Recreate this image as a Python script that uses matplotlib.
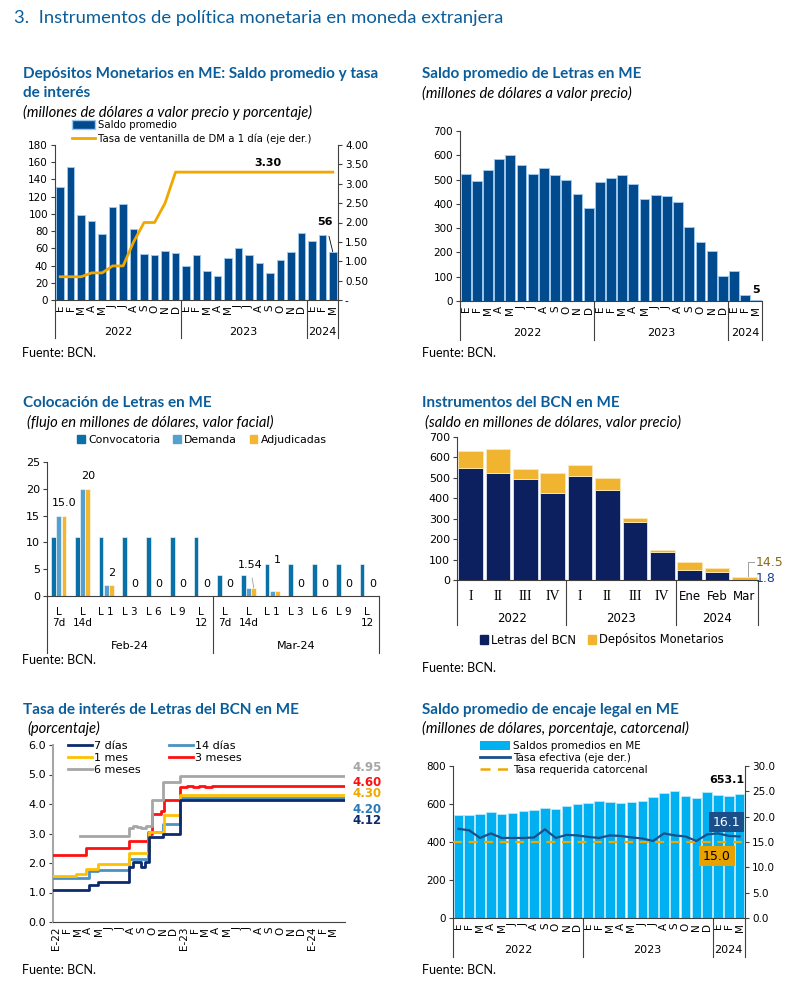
import numpy as np
import matplotlib
matplotlib.use('Agg')
import matplotlib.pyplot as plt
from matplotlib.transforms import blended_transform_factory as btf
from matplotlib.patches import Patch
from matplotlib.lines import Line2D

plt.rcParams['font.family'] = ['DejaVu Sans']
plt.rcParams['axes.linewidth'] = 0.8

# ---------------- data ----------------
months = ['E', 'F', 'M', 'A', 'M', 'J', 'J', 'A', 'S', 'O', 'N', 'D',
          'E', 'F', 'M', 'A', 'M', 'J', 'J', 'A', 'S', 'O', 'N', 'D',
          'E', 'F', 'M']
year_groups = ['2022', '2023', '2024']
year_sizes = [12, 12, 3]

# Panel 1: Depósitos Monetarios
dm_saldo = [131, 154, 99, 92, 77, 108, 111, 83, 53, 52, 57, 55,
            40, 52, 34, 28, 49, 60, 52, 43, 31, 46, 56, 78,
            68, 76, 56]
dm_tasa = [0.60, 0.60, 0.60, 0.70, 0.70, 0.88, 0.88, 1.50, 2.00, 2.00, 2.50, 3.30,
           3.30, 3.30, 3.30, 3.30, 3.30, 3.30, 3.30, 3.30, 3.30, 3.30, 3.30, 3.30,
           3.30, 3.30, 3.30]

# Panel 2: Saldo promedio de Letras
letras_saldo = [522, 495, 538, 583, 600, 558, 521, 548, 519, 497, 440, 385,
                490, 506, 517, 482, 419, 438, 432, 406, 305, 243, 206, 104,
                125, 24, 5]

# Panel 3: Colocación de Letras
col_labels = ['L\n7d', 'L\n14d', 'L 1', 'L 3', 'L 6', 'L 9', 'L\n12',
              'L\n7d', 'L\n14d', 'L 1', 'L 3', 'L 6', 'L 9', 'L\n12']
col_groups = ['Feb-24', 'Mar-24']
col_sizes = [7, 7]
convocatoria = [11, 11, 11, 11, 11, 11, 11, 4, 4, 6, 6, 6, 6, 6]
demanda = [15, 20, 2, 0, 0, 0, 0, 0, 1.54, 1, 0, 0, 0, 0]
adjudicadas = [15, 20, 2, 0, 0, 0, 0, 0, 1.54, 1, 0, 0, 0, 0]
adj_text = ['15.0', '20', '2', '0', '0', '0', '0', '0', '1.54', '1', '0', '0', '0', '0']

# Panel 4: Instrumentos del BCN
inst_labels = ['I', 'II', 'III', 'IV', 'I', 'II', 'III', 'IV', 'Ene', 'Feb', 'Mar']
inst_groups = ['2022', '2023', '2024']
inst_sizes = [4, 4, 3]
letras_bcn = [547, 526, 492, 427, 508, 443, 285, 137, 49, 37, 1.8]
depositos_mon = [83, 114, 50, 96, 55, 58, 19, 8, 41, 20, 14.5]

# Panel 5: Tasa de interés de Letras (step series; x in months from Jan-2022)
tasa_ticks = ['E-22', 'F', 'M', 'A', 'M', 'J', 'J', 'A', 'S', 'O', 'N', 'D',
              'E-23', 'F', 'M', 'A', 'M', 'J', 'J', 'A', 'S', 'O', 'N', 'D',
              'E-24', 'F', 'M']
t7_x = [-0.3, 3.1, 3.9, 6.8, 7.2, 8.0, 8.3, 8.75, 10.0, 11.6, 27.0]
t7_y = [1.08, 1.25, 1.36, 1.88, 2.03, 1.88, 2.03, 2.87, 3.00, 4.12, 4.12]
t14_x = [-0.3, 3.1, 3.9, 6.8, 8.6, 10.0, 11.6, 27.0]
t14_y = [1.50, 1.72, 1.76, 2.12, 3.04, 3.32, 4.20, 4.20]
t1m_x = [-0.3, 1.9, 2.8, 3.9, 6.8, 8.75, 10.1, 11.6, 27.0]
t1m_y = [1.55, 1.63, 1.80, 1.95, 2.33, 3.04, 3.62, 4.30, 4.30]
t3m_x = [-0.3, 2.8, 6.8, 8.6, 9.0, 9.8, 10.1, 11.6, 12.3, 12.8, 13.4, 14.0, 14.6, 15.2, 27.0]
t3m_y = [2.27, 2.52, 2.76, 3.00, 3.65, 3.75, 4.12, 4.58, 4.62, 4.58, 4.61, 4.57, 4.61, 4.60, 4.60]
t6m_x = [2.2, 6.8, 7.2, 7.6, 8.0, 8.4, 9.0, 10.0, 11.6, 27.0]
t6m_y = [2.90, 3.18, 3.25, 3.22, 3.18, 3.25, 4.15, 4.75, 4.95, 4.95]
tasa_finales = [4.95, 4.60, 4.30, 4.20, 4.12]

# Panel 6: Encaje legal
enc_saldo = [543, 543, 548, 557, 547, 555, 562, 570, 580, 572, 588, 602,
             605, 614, 609, 605, 613, 618, 636, 660, 668, 641, 633, 661,
             647, 641, 653.1]
enc_tasa = [17.6, 17.3, 15.8, 16.7, 15.8, 15.8, 15.8, 15.9, 17.5, 15.8, 16.4, 16.3,
            16.0, 15.8, 16.3, 16.2, 15.9, 15.7, 15.2, 16.7, 16.3, 16.1, 15.2, 16.5,
            16.7, 16.2, 16.1]
tasa_requerida = 15.0

# ---------------- layout helpers ----------------
W, H = 790, 990
fig = plt.figure(figsize=(W / 100, H / 100), dpi=100)

TITLE_C = '#0a5d9a'
TF = 'Lato'
AX_C = '#404040'
SUB_FS = 10.6
MONTH_FS = 8


def rect(x0, y0, x1, y1):
    return [x0 / W, 1 - y1 / H, (x1 - x0) / W, (y1 - y0) / H]


def ftext(x, y, s, **kw):
    kw.setdefault('va', 'center')
    return fig.text(x / W, 1 - y / H, s, **kw)


def group_axis(ax, sizes, labels, line_bottom_px, label_px, fontsize=8):
    tr = btf(ax.transData, fig.transFigure)
    y_top = ax.get_position().y0
    y_bot = 1 - line_bottom_px / H
    bounds = np.concatenate([[0], np.cumsum(sizes)]) - 0.5
    for b in bounds:
        ax.add_line(Line2D([b, b], [y_top, y_bot], transform=tr, color=AX_C,
                           lw=0.8, clip_on=False))
    for i, lab in enumerate(labels):
        ax.text((bounds[i] + bounds[i + 1]) / 2, 1 - label_px / H, lab, transform=tr,
                ha='center', va='center', fontsize=fontsize)


def style_axes(ax, right=False):
    ax.spines['top'].set_visible(False)
    if not right:
        ax.spines['right'].set_visible(False)
    for s in ax.spines.values():
        s.set_color(AX_C)
    ax.tick_params(axis='y', length=3, width=0.8, color=AX_C, labelsize=7.5, pad=2)
    ax.tick_params(axis='x', length=0, labelsize=7.5)


# main title
ftext(14, 18, '3.  Instrumentos de política monetaria en moneda extranjera',
      fontfamily=TF, fontsize=13.3, color=TITLE_C)

# ---------------- Panel 1 ----------------
ftext(23, 74, 'Depósitos Monetarios en ME: Saldo promedio y tasa', fontfamily=TF,
      fontsize=11, color=TITLE_C, fontweight='bold')
ftext(23, 93, 'de interés', fontfamily=TF, fontsize=11, color=TITLE_C, fontweight='bold')
ftext(23, 112, '(millones de dólares a valor precio y porcentaje)', fontfamily=TF,
      fontsize=SUB_FS, style='italic')
ax1 = fig.add_axes(rect(55, 145, 338, 300))
x27 = np.arange(len(dm_saldo))
ax1.bar(x27, dm_saldo, width=0.72, color='#004a8d', edgecolor='#9cc8ec', linewidth=0.7, zorder=2)
ax1.set_xlim(-0.5, 26.5)
ax1.set_ylim(0, 180)
ax1.set_yticks(range(0, 181, 20))
ax1.set_xticks(x27)
ax1.set_xticklabels(months, rotation=90, fontsize=MONTH_FS)
style_axes(ax1)
ax1.spines['right'].set_visible(False)
ax1r = ax1.twinx()
ax1r.plot(x27, dm_tasa, color='#f0a800', lw=2, zorder=3)
ax1r.set_ylim(0, 4)
ax1r.set_yticks(np.arange(0, 4.01, 0.5))
ax1r.set_yticklabels(['-'] + ['%.2f' % v for v in np.arange(0.5, 4.01, 0.5)])
style_axes(ax1r, right=True)
ax1r.spines['left'].set_visible(False)
ax1r.spines['bottom'].set_visible(False)
ax1r.text(19.8, dm_tasa[20] + 0.1, '%.2f' % dm_tasa[20], ha='center', va='bottom',
          fontsize=8, fontweight='bold')
ax1.annotate('%d' % dm_saldo[-1], xy=(26, dm_saldo[-1]), xytext=(25.3, 91),
             ha='center', va='center', fontsize=8, fontweight='bold',
             arrowprops=dict(arrowstyle='-', color='black', lw=0.6, shrinkA=5, shrinkB=0))
group_axis(ax1, year_sizes, year_groups, 338, 332)
fig.legend(handles=[Patch(facecolor='#004a8d', edgecolor='#9cc8ec', label='Saldo promedio'),
                    Line2D([], [], color='#f0a800', lw=2, label='Tasa de ventanilla de DM a 1 día (eje der.)')],
           loc='upper left', bbox_to_anchor=(72 / W, 1 - 120 / H), frameon=False,
           fontsize=7.3, handlelength=2.3, handleheight=1.0, handletextpad=0.3,
           labelspacing=0.35, borderaxespad=0, borderpad=0)
ftext(22, 353, 'Fuente: BCN.', fontfamily=TF, fontsize=9)

# ---------------- Panel 2 ----------------
ftext(422, 74, 'Saldo promedio de Letras en ME', fontfamily=TF, fontsize=11,
      color=TITLE_C, fontweight='bold')
ftext(422, 93, '(millones de dólares a valor precio)', fontfamily=TF, fontsize=SUB_FS,
      style='italic')
ax2 = fig.add_axes(rect(460, 131, 762, 301))
ax2.bar(x27, letras_saldo, width=0.88, color='#004a8d', edgecolor='#9cc8ec', linewidth=0.7, zorder=2)
ax2.set_xlim(-0.5, 26.5)
ax2.set_ylim(0, 700)
ax2.set_yticks(range(0, 701, 100))
ax2.set_xticks(x27)
ax2.set_xticklabels(months, rotation=90, fontsize=MONTH_FS)
style_axes(ax2)
ax2.text(26, letras_saldo[-1] + 20, '%d' % letras_saldo[-1], ha='center', va='bottom',
         fontsize=8, fontweight='bold')
group_axis(ax2, year_sizes, year_groups, 340, 333)
ftext(422, 353, 'Fuente: BCN.', fontfamily=TF, fontsize=9)

# ---------------- Panel 3 ----------------
ftext(23, 403, 'Colocación de Letras en ME', fontfamily=TF, fontsize=11,
      color=TITLE_C, fontweight='bold')
ftext(27, 422, '(flujo en millones de dólares, valor facial)', fontfamily=TF, fontsize=SUB_FS,
      style='italic')
ax3 = fig.add_axes(rect(47, 462, 379, 596))
g = np.arange(len(convocatoria))
c_conv, c_dem, c_adj = '#0a70a8', '#56a0cf', '#f4b630'
ax3.bar(g - 0.22, convocatoria, 0.2, color=c_conv, edgecolor='white', linewidth=0.4, zorder=2)
ax3.bar(g, demanda, 0.2, color=c_dem, edgecolor='white', linewidth=0.4, zorder=2)
ax3.bar(g + 0.22, adjudicadas, 0.2, color=c_adj, edgecolor='white', linewidth=0.4, zorder=2)
ax3.set_xlim(-0.5, 13.5)
ax3.set_ylim(0, 25)
ax3.set_yticks(range(0, 26, 5))
ax3.set_xticks(g)
ax3.set_xticklabels(col_labels, fontsize=8, va='top', linespacing=1.15)
style_axes(ax3)
ax3.tick_params(axis='y', labelsize=8)
ax3.tick_params(axis='x', pad=8)
for i, (v, t) in enumerate(zip(adjudicadas, adj_text)):
    if t == '1.54':
        ax3.annotate(t, xy=(i + 0.22, v), xytext=(i + 0.05, v + 4.3), ha='center', va='center',
                     fontsize=8, arrowprops=dict(arrowstyle='-', color='#a0a0a0', lw=0.6,
                                                 shrinkA=4, shrinkB=0))
    elif t == '1':
        ax3.text(i + 0.22, convocatoria[i] + 0.7, t, ha='center', va='center', fontsize=8)
    else:
        ax3.text(i + 0.22, v + 2.3, t, ha='center', va='center', fontsize=8)
group_axis(ax3, col_sizes, col_groups, 653, 646, fontsize=8)
fig.legend(handles=[Patch(color=c_conv, label='Convocatoria'),
                    Patch(color=c_dem, label='Demanda'),
                    Patch(color=c_adj, label='Adjudicadas')],
           loc='center', bbox_to_anchor=(202 / W, 1 - 440 / H), ncol=3, frameon=False,
           fontsize=7.8, handlelength=0.7, handleheight=0.7, handletextpad=0.3,
           columnspacing=1.2, borderaxespad=0, borderpad=0)
ftext(22, 660, 'Fuente: BCN.', fontfamily=TF, fontsize=9)

# ---------------- Panel 4 ----------------
ftext(422, 403, 'Instrumentos del BCN en ME', fontfamily=TF, fontsize=11,
      color=TITLE_C, fontweight='bold')
ftext(425, 422, '(saldo en millones de dólares, valor precio)', fontfamily=TF, fontsize=SUB_FS,
      style='italic')
ax4 = fig.add_axes(rect(457, 437, 758, 580))
xi = np.arange(len(letras_bcn))
c_let, c_dep = '#0c1f5e', '#f0b431'
ax4.bar(xi, letras_bcn, 0.9, color=c_let, edgecolor='#dfe6f2', linewidth=0.6, zorder=2)
ax4.bar(xi, depositos_mon, 0.9, bottom=letras_bcn, color=c_dep, edgecolor='#fbe7b8',
        linewidth=0.6, zorder=2)
ax4.set_xlim(-0.5, 10.5)
ax4.set_ylim(0, 700)
ax4.set_yticks(range(0, 701, 100))
ax4.set_xticks(xi)
ax4.set_xticklabels(inst_labels)
style_axes(ax4)
ax4.tick_params(axis='y', labelsize=8)
ax4.tick_params(axis='x', pad=7)
for lab in ax4.get_xticklabels():
    if lab.get_text() in ('I', 'II', 'III', 'IV'):
        lab.set_fontfamily('Liberation Serif')
        lab.set_fontsize(10)
    else:
        lab.set_fontsize(8.5)
tot_last = letras_bcn[-1] + depositos_mon[-1]
ax4.plot([10.15, 10.15, 10.35], [tot_last + 3, 88, 88], color='#a0a0a0', lw=0.7, clip_on=False)
ax4.text(10.4, 88, '%.1f' % depositos_mon[-1], ha='left', va='center', fontsize=9,
         color='#8a6a10', clip_on=False)
ax4.text(10.4, 8, '%.1f' % letras_bcn[-1], ha='left', va='center', fontsize=9,
         color='#1a3f8a', clip_on=False)
group_axis(ax4, inst_sizes, inst_groups, 625, 619, fontsize=8.5)
fig.legend(handles=[Patch(color=c_let, label='Letras del BCN'),
                    Patch(color=c_dep, label='Depósitos Monetarios')],
           loc='center', bbox_to_anchor=(602 / W, 1 - 640 / H), ncol=2, frameon=False,
           fontsize=8.3, handlelength=0.7, handleheight=0.7, handletextpad=0.3,
           columnspacing=1.0, borderaxespad=0, borderpad=0)
ftext(422, 668, 'Fuente: BCN.', fontfamily=TF, fontsize=9)

# ---------------- Panel 5 ----------------
ftext(23, 710, 'Tasa de interés de Letras del BCN en ME', fontfamily=TF, fontsize=11,
      color=TITLE_C, fontweight='bold')
ftext(27, 728, '(porcentaje)', fontfamily=TF, fontsize=SUB_FS, style='italic')
ax5 = fig.add_axes(rect(53, 745, 345, 922))
c7, c14, c1m, c3m, c6m = '#0c2a6e', '#4a92c4', '#ffc000', '#ff1010', '#a6a6a6'
l7, = ax5.plot(t7_x, t7_y, drawstyle='steps-post', color=c7, lw=2, label='7 días', zorder=5)
l14, = ax5.plot(t14_x, t14_y, drawstyle='steps-post', color=c14, lw=2, label='14 días', zorder=4)
l1m, = ax5.plot(t1m_x, t1m_y, drawstyle='steps-post', color=c1m, lw=2, label='1 mes', zorder=4)
l3m, = ax5.plot(t3m_x, t3m_y, drawstyle='steps-post', color=c3m, lw=2, label='3 meses', zorder=3)
l6m, = ax5.plot(t6m_x, t6m_y, drawstyle='steps-post', color=c6m, lw=2, label='6 meses', zorder=3)
ax5.set_xlim(-0.3, 27.1)
ax5.set_ylim(0, 6)
ax5.set_yticks(np.arange(0, 6.01, 1))
ax5.yaxis.set_major_formatter(matplotlib.ticker.FormatStrFormatter('%.1f'))
ax5.set_xticks(np.arange(len(tasa_ticks)))
ax5.set_xticklabels(tasa_ticks, rotation=90, fontsize=MONTH_FS)
style_axes(ax5)
ax5.tick_params(axis='y', labelsize=8)
ax5.spines['left'].set_color('#a6a6a6')
ax5.spines['left'].set_linewidth(1.5)
ax5.legend(handles=[l7, l1m, l6m, l14, l3m], ncol=2, loc='upper left',
           bbox_to_anchor=(0.05, 1.025), frameon=False, fontsize=8, handlelength=2.2,
           handletextpad=0.2, labelspacing=0.2, columnspacing=2.5, borderaxespad=0,
           borderpad=0)
trr = btf(ax5.transAxes, ax5.transData)
for val, ypos, col in zip(tasa_finales, [5.23, 4.74, 4.34, 3.83, 3.43],
                          [c6m, c3m, '#f0a800', '#2a7ab8', c7]):
    ax5.text(1.025, ypos, '%.2f' % val, transform=trr, ha='left', va='center',
             fontsize=8.5, fontweight='bold', color=col, clip_on=False)
ftext(22, 970, 'Fuente: BCN.', fontfamily=TF, fontsize=9)

# ---------------- Panel 6 ----------------
ftext(422, 710, 'Saldo promedio de encaje legal en ME', fontfamily=TF, fontsize=11,
      color=TITLE_C, fontweight='bold')
ftext(422, 728, '(millones de dólares, porcentaje, catorcenal)', fontfamily=TF, fontsize=SUB_FS,
      style='italic')
ax6 = fig.add_axes(rect(453, 766, 745, 918))
c_enc, c_ef, c_req = '#00b0f0', '#1a4f8a', '#f0a800'
ax6.bar(x27, enc_saldo, 0.88, color=c_enc, edgecolor='#b8e8fb', linewidth=0.6, zorder=2)
ax6.set_xlim(-0.5, 26.5)
ax6.set_ylim(0, 800)
ax6.set_yticks(range(0, 801, 200))
ax6.set_xticks(x27)
ax6.set_xticklabels(months, rotation=90, fontsize=MONTH_FS)
style_axes(ax6)
ax6r = ax6.twinx()
ax6r.plot(x27, enc_tasa, color=c_ef, lw=1.6, zorder=4)
ax6r.axhline(tasa_requerida, color=c_req, lw=1.6, dashes=(4, 3), zorder=3)
ax6r.set_ylim(0, 30)
ax6r.set_yticks(np.arange(0, 30.01, 5))
ax6r.yaxis.set_major_formatter(matplotlib.ticker.FormatStrFormatter('%.1f'))
style_axes(ax6r, right=True)
ax6r.spines['left'].set_visible(False)
ax6r.spines['bottom'].set_visible(False)
ax6.text(24.8, enc_saldo[-1] + 45, '%.1f' % enc_saldo[-1], ha='center', va='bottom',
         fontsize=8, fontweight='bold', zorder=6)
ax6r.text(24.75, 18.9, '%.1f' % enc_tasa[-1], ha='center', va='center', fontsize=9,
          color='white', zorder=6,
          bbox=dict(boxstyle='square,pad=0.3', facecolor=c_ef, edgecolor='none'))
ax6r.text(23.9, 12.2, '%.1f' % tasa_requerida, ha='center', va='center', fontsize=9,
          color='black', zorder=6,
          bbox=dict(boxstyle='square,pad=0.3', facecolor='#e8a200', edgecolor='none'))
group_axis(ax6, year_sizes, year_groups, 957, 950)
fig.legend(handles=[Patch(facecolor=c_enc, edgecolor='none', label='Saldos promedios en ME'),
                    Line2D([], [], color=c_ef, lw=2, label='Tasa efectiva (eje der.)'),
                    Line2D([], [], color=c_req, lw=1.8, dashes=(4, 3), label='Tasa requerida catorcenal')],
           loc='upper left', bbox_to_anchor=(480 / W, 1 - 741 / H), frameon=False,
           fontsize=7.5, handlelength=2.9, handleheight=0.9, handletextpad=0.3,
           labelspacing=0.2, borderaxespad=0, borderpad=0)
ftext(422, 970, 'Fuente: BCN.', fontfamily=TF, fontsize=9)

fig.savefig('out.png', dpi=100)
